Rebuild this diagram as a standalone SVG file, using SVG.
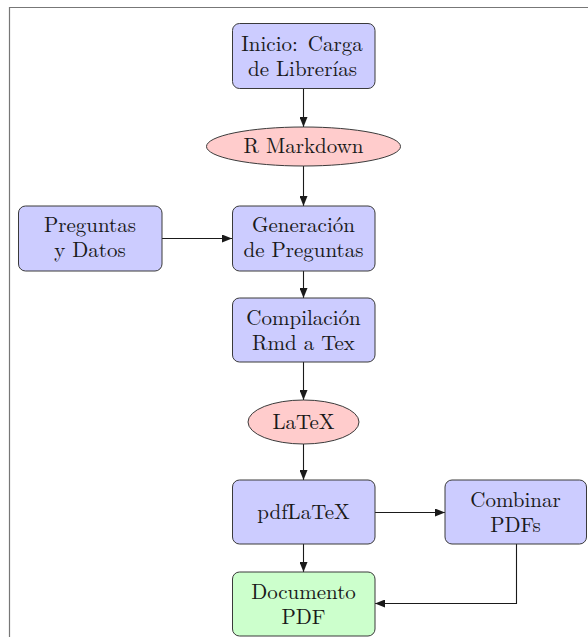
<svg xmlns="http://www.w3.org/2000/svg" width="588" height="637" viewBox="0 0 588 637">
<style>
.box{stroke:#3a3a3a;stroke-width:1;}
.blue{fill:#ccccff;}
.red{fill:#ffcccc;}
.green{fill:#ccffcc;}
.t{font-family:"Latin Modern Roman","Liberation Serif","DejaVu Serif",serif;font-size:21px;fill:#1a1a1a;text-anchor:middle;}
.c{stroke:#1a1a1a;stroke-width:1.1;fill:none;marker-end:url(#ah);}
</style>
<defs>
<marker id="ah" viewBox="0 0 10 8" refX="10" refY="4" markerWidth="10" markerHeight="8" markerUnits="userSpaceOnUse" orient="auto">
<path d="M0,0 L10,4 L0,8 Z" fill="#1a1a1a"/>
</marker>
</defs>
<rect width="588" height="637" fill="#ffffff"/>
<path d="M9.5,637 V7.5 H588" fill="none" stroke="#777" stroke-width="1.2"/>
<g id="connectors">
<path class="c" d="M303.5,88 V127"/>
<path class="c" d="M303.5,166 V206"/>
<path class="c" d="M162,238.5 H232"/>
<path class="c" d="M303.5,271 V298"/>
<path class="c" d="M303.5,362 V400"/>
<path class="c" d="M303.5,444 V480"/>
<path class="c" d="M375,512.5 H445"/>
<path class="c" d="M303.5,544 V572"/>
<path class="c" d="M516.5,544 V603.5 H375"/>
</g>
<g id="inicio">
<rect class="box blue" x="232.5" y="23.5" width="142.5" height="65" rx="7"/>
<text class="t"><tspan x="302" y="51" word-spacing="3">Inicio: Carga</tspan><tspan x="302.5" y="75.5">de Librerías</tspan></text>
</g>
<g id="rmarkdown">
<ellipse class="box red" cx="303.5" cy="146.5" rx="97" ry="19.5"/>
<text class="t" x="303.5" y="153">R Markdown</text>
</g>
<g id="preguntas">
<rect class="box blue" x="18.5" y="206" width="143.5" height="65" rx="7"/>
<text class="t"><tspan x="90" y="232">Preguntas</tspan><tspan x="90" y="257">y Datos</tspan></text>
</g>
<g id="generacion">
<rect class="box blue" x="232.5" y="206" width="142.5" height="65" rx="7"/>
<text class="t"><tspan x="303.5" y="232">Generación</tspan><tspan x="303.5" y="257">de Preguntas</tspan></text>
</g>
<g id="compilacion">
<rect class="box blue" x="232.5" y="298" width="142.5" height="64" rx="7"/>
<text class="t"><tspan x="303.5" y="325">Compilación</tspan><tspan x="303.5" y="350">Rmd a Tex</tspan></text>
</g>
<g id="latex">
<ellipse class="box red" cx="303.5" cy="422" rx="55.5" ry="22"/>
<text class="t" x="303.5" y="429">LaTeX</text>
</g>
<g id="pdflatex">
<rect class="box blue" x="232.5" y="480" width="142.5" height="64" rx="7"/>
<text class="t" x="303.5" y="519">pdfLaTeX</text>
</g>
<g id="combinar">
<rect class="box blue" x="445" y="480" width="141.5" height="64" rx="7"/>
<text class="t"><tspan x="515.5" y="507">Combinar</tspan><tspan x="515.5" y="532">PDFs</tspan></text>
</g>
<g id="documento">
<rect class="box green" x="232.5" y="572" width="142.5" height="64" rx="7"/>
<text class="t"><tspan x="303.5" y="599">Documento</tspan><tspan x="303.5" y="624">PDF</tspan></text>
</g>
</svg>
